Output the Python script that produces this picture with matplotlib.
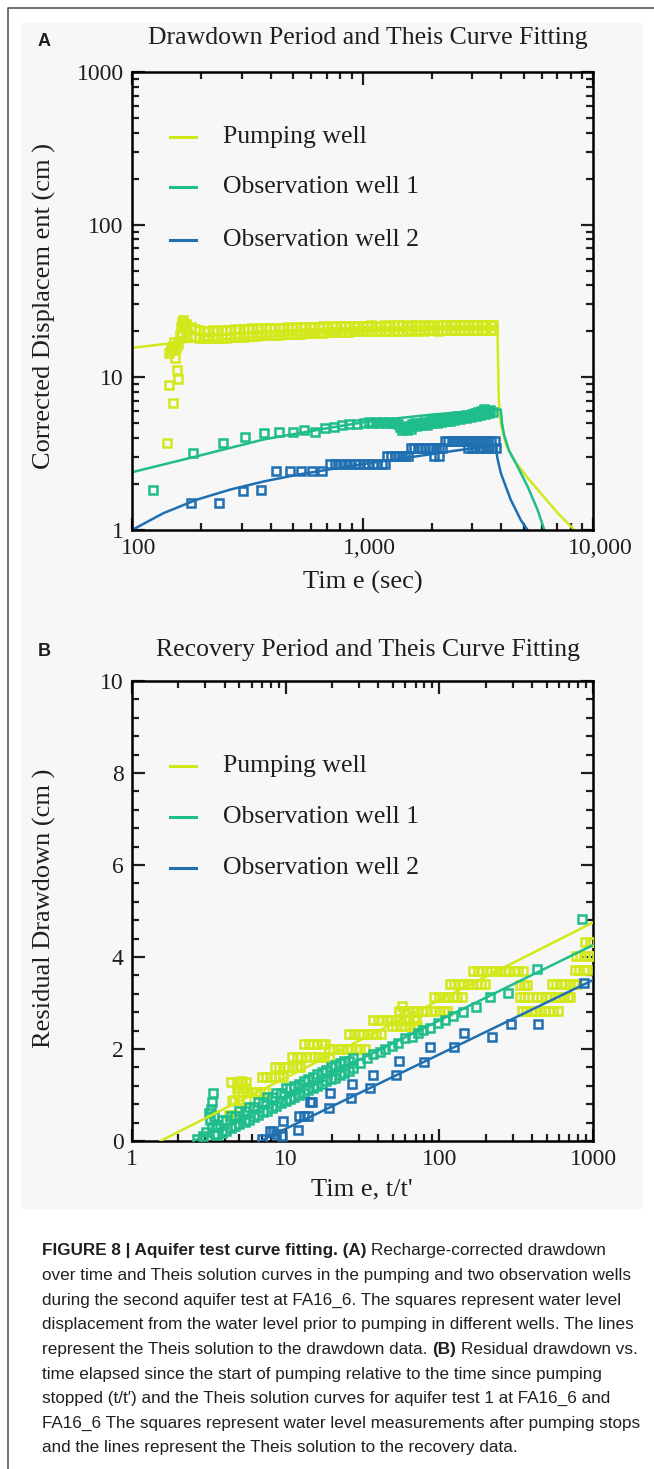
import matplotlib
matplotlib.use("Agg")
from matplotlib import pyplot as plt
from matplotlib.lines import Line2D
from matplotlib.patches import Rectangle
from matplotlib.ticker import NullFormatter, MultipleLocator
from matplotlib.transforms import ScaledTranslation

#* Colores de cada pozo
color_bombeo = "#d3e81b"
color_obs1 = "#1fbd8b"
color_obs2 = "#1f6fb1"
nombres = ["Pumping well", "Observation well 1", "Observation well 2"]

#*#################################################################################
#* Datos panel A (descenso, log-log)
#*#################################################################################
a_bombeo_linea_t = [100, 137, 200, 400, 1000, 2000, 3850, 3900, 3990, 4200, 4600, 5200, 5754, 7031, 8300, 8800]
a_bombeo_linea_v = [15.6, 16.5, 17.4, 18.6, 19.8, 20.5, 21.0, 7.2, 4.9, 3.6, 2.8, 2.2, 1.84, 1.29, 1.0, 0.9]
a_obs1_linea_t = [100, 191, 373, 726, 1084, 2000, 3000, 3980, 4030, 4115, 4325, 4710, 5200, 5754, 6150, 6500]
a_obs1_linea_v = [2.39, 3.04, 3.92, 4.68, 5.17, 5.7, 6.0, 6.15, 5.0, 4.2, 3.3, 2.6, 1.93, 1.35, 1.0, 0.9]
a_obs2_linea_t = [100, 137, 191, 267, 373, 520, 726, 1084, 1500, 2500, 3785, 3840, 3981, 4395, 4865, 5200, 5500]
a_obs2_linea_v = [1.0, 1.29, 1.58, 1.84, 2.08, 2.3, 2.5, 2.75, 2.95, 3.3, 3.6, 3.0, 2.36, 1.58, 1.16, 1.0, 0.9]

#* Cuadrados del pozo de bombeo (inicio disperso)
a_bombeo_t = [142, 144, 151, 154, 156, 159, 145, 148, 150, 152, 147, 155, 158, 161, 163, 166, 168]
a_bombeo_v = [3.7, 8.9, 6.8, 13.3, 11.1, 9.75, 14.5, 15.5, 16.0, 17.0, 15.0, 15.5, 16.5, 19.0, 21.5, 23.6, 22.5]
#* Banda densa del pozo de bombeo (fila superior e inferior)
a_banda_t = [165, 172, 180, 188, 196, 205, 214, 224, 234, 245, 256, 267, 279, 292, 305, 319, 333, 348,
             364, 380, 397, 415, 434, 453, 474, 495, 517, 540, 565, 590, 617, 645, 674, 704, 736, 769,
             804, 840, 878, 917, 959, 1002, 1047, 1094, 1143, 1195, 1249, 1305, 1364, 1425, 1489, 1556,
             1626, 1699, 1776, 1856, 1939, 2027, 2118, 2213, 2313, 2417, 2526, 2639, 2758, 2882, 3012,
             3147, 3289, 3437, 3592, 3700]
a_banda_sup = [23.0, 22.2, 21.3, 20.6, 20.3, 20.2, 20.1, 20.3, 20.2, 20.4, 20.5, 20.5, 20.7, 20.6, 20.8,
               20.8, 20.9, 20.8, 21.0, 21.0, 21.1, 21.0, 21.2, 21.1, 21.3, 21.2, 21.3, 21.4, 21.3, 21.5,
               21.4, 21.5, 21.6, 21.5, 21.6, 21.7, 21.6, 21.7, 21.6, 21.8, 21.7, 21.8, 21.7, 21.9, 21.8,
               21.8, 21.9, 21.8, 21.9, 22.0, 21.9, 21.8, 22.0, 21.9, 21.8, 22.0, 21.9, 21.8, 22.0, 21.9,
               22.0, 21.9, 22.1, 21.9, 22.0, 21.9, 22.1, 22.0, 21.9, 22.1, 22.0, 21.9]
a_banda_inf = [19.5, 19.0, 18.6, 18.3, 18.1, 18.0, 18.0, 18.1, 18.1, 18.2, 18.2, 18.3, 18.4, 18.4, 18.5,
               18.6, 18.6, 18.7, 18.8, 18.8, 18.9, 19.0, 19.0, 19.1, 19.2, 19.2, 19.3, 19.3, 19.4, 19.5,
               19.5, 19.6, 19.6, 19.7, 19.7, 19.8, 19.8, 19.9, 19.9, 20.0, 20.0, 20.0, 20.1, 20.0, 20.1,
               20.1, 20.2, 20.1, 20.2, 20.2, 20.1, 20.2, 20.3, 20.2, 20.3, 20.2, 20.3, 20.3, 20.2, 20.3,
               20.4, 20.3, 20.3, 20.4, 20.3, 20.4, 20.3, 20.4, 20.4, 20.3, 20.4, 20.4]

#* Cuadrados del pozo de observación 1
a_obs1_t = [123, 184, 248, 310, 373, 436, 498, 556, 621, 686, 750, 811, 873, 942, 1014, 1066,
            1100, 1140, 1180, 1220, 1260, 1300, 1340, 1380, 1420, 1460, 1500, 1545, 1590, 1640, 1690,
            1740, 1795, 1850, 1905, 1965, 2025, 2085, 2150, 2215, 2285, 2355, 2425, 2500, 2575, 2655,
            2735, 2820, 2905, 2995, 3085, 3180, 3280, 3380, 3480, 3590, 3700,
            1480, 1560, 1620, 1700, 1800, 1900, 2000, 2100, 2200, 2300, 2400, 2500, 2650, 2800, 2950,
            3100, 3250, 3400, 3550]
a_obs1_v = [1.82, 3.2, 3.69, 4.06, 4.3, 4.41, 4.41, 4.52, 4.38, 4.63, 4.72, 4.87, 4.92, 4.92, 5.0, 5.1,
            5.05, 5.1, 5.0, 5.08, 5.05, 5.1, 5.0, 5.05, 4.95, 4.7, 4.65, 4.7, 4.8, 4.95, 5.0,
            4.9, 5.05, 5.1, 5.0, 5.2, 5.3, 5.2, 5.35, 5.3, 5.45, 5.35, 5.5, 5.45, 5.55, 5.5,
            5.6, 5.7, 5.6, 5.75, 5.8, 5.9, 6.05, 6.2, 6.0, 6.1, 5.95,
            4.5, 4.55, 4.6, 4.8, 4.85, 4.85, 5.0, 5.05, 5.1, 5.2, 5.2, 5.25, 5.3, 5.45, 5.5,
            5.6, 5.7, 5.75, 5.85]

#* Cuadrados del pozo de observación 2
a_obs2_t = [180, 239, 303, 363, 421, 483, 541, 604, 668,
            722, 760, 800, 840, 880, 925, 970, 1015, 1060, 1110, 1160, 1210, 1250,
            1280, 1330, 1380, 1430, 1480, 1530, 1580,
            1620, 1680, 1740, 1800, 1870, 1940, 2010, 2080, 2150, 2220, 2040, 2140,
            2280, 2360, 2440, 2520, 2600, 2690, 2780, 2870, 2970, 3070, 3170, 3280, 3390, 3500, 3620, 3740,
            2880, 2980, 3080, 3190, 3300, 3420, 3540, 3660, 3780]
a_obs2_v = [1.51, 1.51, 1.81, 1.82, 2.42, 2.42, 2.42, 2.42, 2.42,
            2.72, 2.72, 2.72, 2.72, 2.72, 2.72, 2.72, 2.72, 2.72, 2.72, 2.72, 2.72, 2.72,
            3.04, 3.04, 3.04, 3.04, 3.04, 3.04, 3.04,
            3.45, 3.45, 3.45, 3.45, 3.45, 3.45, 3.45, 3.45, 3.45, 3.45, 3.04, 3.04,
            3.82, 3.82, 3.82, 3.82, 3.82, 3.82, 3.82, 3.82, 3.82, 3.82, 3.82, 3.82, 3.82, 3.82, 3.82, 3.82,
            3.45, 3.45, 3.45, 3.45, 3.45, 3.45, 3.45, 3.45, 3.45]

#*#################################################################################
#* Datos panel B (recuperación, t/t')
#*#################################################################################
b_bombeo_linea_t = [1.53, 30, 1000]
b_bombeo_linea_v = [0.0, 2.18, 4.75]
b_obs1_linea_t = [2.52, 1000]
b_obs1_linea_v = [0.0, 4.26]
b_obs2_linea_t = [6.85, 1000]
b_obs2_linea_v = [0.0, 3.5]

#* Pozo de bombeo: escalones de cuadrados
b_bombeo_t = [4.3, 4.5, 4.6, 4.85, 5.1, 5.4,
              4.6, 5.0, 5.5,
              4.4, 4.8, 5.2, 5.5,
              4.9, 5.2, 5.6, 6.0, 6.4, 6.8, 7.3,
              7.0, 7.5, 8.0, 8.5, 9.0, 9.6,
              8.5, 9.1, 9.7, 10.4, 11.1, 11.8, 12.4,
              11, 11.8, 12.6, 13.5, 14.4, 15.4, 16.5, 17.7, 19,
              13.2, 14.1, 15.1, 16.1, 17.2, 18,
              19, 20.4, 21.8, 23.3, 25, 26.7, 28.6, 30.6, 33,
              26, 27.8, 29.8, 31.9, 34.1, 36.5, 39, 42,
              37, 39.6, 42.4, 45.4, 48.5, 52, 55.6, 59.5, 63.6, 68, 70,
              49, 52.5, 56, 60, 64, 68.5, 72,
              57,
              55, 59, 63, 67.5, 72, 77, 82.5, 88, 94, 101, 108, 113,
              93, 99.5, 106.5, 114, 122, 130.5, 140,
              117, 125, 134, 143, 153, 164, 175, 187, 197,
              166, 178, 190, 203, 217, 232, 248, 266, 284, 304, 325, 351,
              333, 355, 370,
              333, 356, 380, 430, 460, 492, 527, 563, 603, 645, 690, 710,
              345, 369, 395, 422, 452, 484, 517, 553, 590,
              540, 578, 618, 661, 707, 757, 790,
              760, 813, 870, 920,
              770, 824, 882, 943, 1000,
              890, 952, 1000]
b_bombeo_v = [0.57, 0.86, 0.57, 1.15, 1.3, 1.15,
              0.89, 0.89, 0.89,
              1.28, 1.28, 1.28, 1.28,
              1.07, 1.07, 1.07, 1.07, 1.07, 1.07, 1.07,
              1.39, 1.39, 1.39, 1.39, 1.39, 1.39,
              1.61, 1.61, 1.61, 1.61, 1.61, 1.61, 1.61,
              1.83, 1.83, 1.83, 1.83, 1.83, 1.83, 1.83, 1.83, 1.83,
              2.1, 2.1, 2.1, 2.1, 2.1, 2.1,
              2.0, 2.0, 2.0, 2.0, 2.0, 2.0, 2.0, 2.0, 2.0,
              2.33, 2.33, 2.33, 2.33, 2.33, 2.33, 2.33, 2.33,
              2.62, 2.62, 2.62, 2.62, 2.62, 2.62, 2.62, 2.62, 2.62, 2.62, 2.62,
              2.5, 2.5, 2.5, 2.5, 2.5, 2.5, 2.5,
              2.93,
              2.82, 2.82, 2.82, 2.82, 2.82, 2.82, 2.82, 2.82, 2.82, 2.82, 2.82, 2.82,
              3.12, 3.12, 3.12, 3.12, 3.12, 3.12, 3.12,
              3.41, 3.41, 3.41, 3.41, 3.41, 3.41, 3.41, 3.41, 3.41,
              3.7, 3.7, 3.7, 3.7, 3.7, 3.7, 3.7, 3.7, 3.7, 3.7, 3.7, 3.7,
              3.4, 3.4, 3.4,
              3.12, 3.12, 3.12, 3.12, 3.12, 3.12, 3.12, 3.12, 3.12, 3.12, 3.12, 3.12,
              2.83, 2.83, 2.83, 2.83, 2.83, 2.83, 2.83, 2.83, 2.83,
              3.41, 3.41, 3.41, 3.41, 3.41, 3.41, 3.41,
              3.72, 3.72, 3.72, 3.72,
              4.02, 4.02, 4.02, 4.02, 4.02,
              4.33, 4.33, 4.33]

#* Pozo de observación 1: columna inicial, banda y puntos sueltos
b_obs1_col_t = [2.64, 2.9, 3.05, 3.15, 3.2, 3.25, 3.3, 3.3, 3.35, 3.4, 3.45, 3.5]
b_obs1_col_v = [0.05, 0.1, 0.2, 0.6, 0.45, 0.7, 0.85, 0.3, 1.04, 0.55, 0.15, 0.35]
b_obs1_banda_t = [3.6, 3.85, 4.1, 4.4, 4.7, 5.0, 5.4, 5.8, 6.2, 6.6, 7.1, 7.6, 8.1, 8.7, 9.3, 10,
                  10.7, 11.4, 12.2, 13.1, 14, 15, 16, 17.2, 18.4, 19.7, 21, 22.5, 24, 25.7, 27.5]
b_obs1_banda_sup = [0.35, 0.45, 0.45, 0.55, 0.55, 0.65, 0.65, 0.75, 0.75, 0.85, 0.85, 0.95, 0.95, 1.05,
                    1.05, 1.15, 1.15, 1.2, 1.25, 1.3, 1.35, 1.4, 1.45, 1.5, 1.55, 1.6, 1.65, 1.7, 1.75,
                    1.75, 1.8]
b_obs1_banda_inf = [0.12, 0.18, 0.22, 0.28, 0.32, 0.36, 0.42, 0.46, 0.52, 0.56, 0.62, 0.66, 0.72, 0.76,
                    0.82, 0.86, 0.92, 0.95, 1.0, 1.05, 1.1, 1.15, 1.2, 1.25, 1.3, 1.35, 1.38, 1.43,
                    1.48, 1.52, 1.58]
b_obs1_t = [30.5, 33.7, 37.2, 41.1, 44.3, 49, 54.1, 59.8, 66.1, 73.1, 78.8, 87, 98.6, 109, 123, 143,
            173, 214, 281, 430, 844]
b_obs1_v = [1.69, 1.80, 1.89, 1.94, 2.01, 2.06, 2.14, 2.23, 2.27, 2.34, 2.41, 2.45, 2.56, 2.63, 2.72,
            2.81, 2.92, 3.12, 3.22, 3.73, 4.83]

#* Pozo de observación 2
b_obs2_t = [7.0, 7.9, 8.3, 8.6, 9.4, 9.6, 12.1, 12.3, 13.2, 14, 14.4, 14.8, 19.2, 19.4, 26.5, 27.2,
            35.4, 37.2, 52, 55, 79, 87, 125, 145, 219, 291, 437, 879]
b_obs2_v = [0.04, 0.22, 0.22, 0.15, 0.1, 0.43, 0.25, 0.54, 0.54, 0.54, 0.85, 0.85, 0.72, 1.05, 0.94,
            1.25, 1.15, 1.43, 1.43, 1.74, 1.72, 2.05, 2.05, 2.34, 2.26, 2.54, 2.54, 3.44]

#* Texto del epígrafe (trozos: texto, negrita)
epigrafe = [
    [("FIGURE 8 | Aquifer test curve fitting. (A)", True), ("Recharge-corrected drawdown", False)],
    [("over time and Theis solution curves in the pumping and two observation wells", False)],
    [("during the second aquifer test at FA16_6. The squares represent water level", False)],
    [("displacement from the water level prior to pumping in different wells. The lines", False)],
    [("represent the Theis solution to the drawdown data.", False), ("(B)", True), ("Residual drawdown vs.", False)],
    [("time elapsed since the start of pumping relative to the time since pumping", False)],
    [("stopped (t/t\u2032) and the Theis solution curves for aquifer test 1 at FA16_6 and", False)],
    [("FA16_6 The squares represent water level measurements after pumping stops", False)],
    [("and the lines represent the Theis solution to the recovery data.", False)],
]

#*#################################################################################
#* Figura
#*#################################################################################
ANCHO, ALTO = 654, 1469
plt.rcParams["font.family"] = ["Liberation Serif", "DejaVu Serif"]
sans = ["Liberation Sans", "DejaVu Sans"]
tinta = "#1e1e1e"


def fx(px):
    return px / ANCHO


def fy(py):
    return 1 - py / ALTO


fig = plt.figure(figsize=(ANCHO / 100, ALTO / 100), dpi=100)
fig.patch.set_facecolor("white")

#* Fondo gris del gráfico y marco
fig.add_artist(Rectangle((fx(21), fy(1209)), fx(643) - fx(21), fy(23) - fy(1209),
                         transform=fig.transFigure, facecolor="#f7f7f7", edgecolor="none", zorder=0))
fig.add_artist(Line2D([fx(7.5), fx(7.5), fx(ANCHO)], [fy(ALTO), fy(8), fy(8)],
                      transform=fig.transFigure, color="#555555", lw=1.2))


def estilo_ejes(ax):
    ax.set_facecolor("none")
    for s in ax.spines.values():
        s.set_linewidth(1.8)
    ax.tick_params(which="both", direction="in", top=True, right=True, width=1.6,
                   labelsize=17, pad=6, colors=tinta)
    ax.tick_params(which="major", length=9)
    ax.tick_params(which="minor", length=5)


def cuadrados(ax, t, v, color):
    ax.plot(t, v, linestyle="none", marker="s", markersize=6.0, markerfacecolor="none",
            markeredgecolor=color, markeredgewidth=1.8, zorder=3)


def leyenda(ys):
    for y, c, nombre in zip(ys, [color_bombeo, color_obs1, color_obs2], nombres):
        fig.add_artist(Line2D([fx(170), fx(196)], [fy(y), fy(y)], transform=fig.transFigure,
                              color=c, lw=2.2))
        fig.text(fx(223), fy(y), nombre, ha="left", va="center", fontsize=18.5, color=tinta)


#*#################################################################################
#* Panel A
#*#################################################################################
axA = fig.add_axes([fx(132), fy(530), fx(593) - fx(132), fy(72) - fy(530)])
axA.set_xscale("log")
axA.set_yscale("log")

axA.plot(a_bombeo_linea_t, a_bombeo_linea_v, color=color_bombeo, lw=1.8, zorder=2)
axA.plot(a_obs1_linea_t, a_obs1_linea_v, color=color_obs1, lw=1.8, zorder=2)
axA.plot(a_obs2_linea_t, a_obs2_linea_v, color=color_obs2, lw=1.8, zorder=2)
cuadrados(axA, a_bombeo_t, a_bombeo_v, color_bombeo)
cuadrados(axA, a_banda_t, a_banda_sup, color_bombeo)
cuadrados(axA, a_banda_t, a_banda_inf, color_bombeo)
cuadrados(axA, a_obs1_t, a_obs1_v, color_obs1)
cuadrados(axA, a_obs2_t, a_obs2_v, color_obs2)

axA.set_xlim(100, 10000)
axA.set_ylim(1, 1000)
axA.set_xticks([100, 1000, 10000], ["100", "1,000", "10,000"])
axA.set_yticks([1, 10, 100, 1000], ["1", "10", "100", "1000"])
axA.xaxis.set_minor_formatter(NullFormatter())
axA.yaxis.set_minor_formatter(NullFormatter())
estilo_ejes(axA)
desplaza = ScaledTranslation(0.07, 0, fig.dpi_scale_trans)
for lab in axA.get_xticklabels():
    lab.set_transform(lab.get_transform() + desplaza)

fig.text(fx(44), fy(42), "A", family=sans, weight="bold", fontsize=13, ha="center", va="center", color=tinta)
fig.text(fx(368), fy(38), "Drawdown Period and Theis Curve Fitting", ha="center", va="center",
         fontsize=18.5, color=tinta)
fig.text(fx(44), fy(306), "Corrected Displacem ent (cm )", rotation=90, ha="center", va="center",
         fontsize=19, color=tinta)
fig.text(fx(363), fy(582), "Tim e (sec)", ha="center", va="center", fontsize=19, color=tinta)
leyenda([137, 187, 240])

#*#################################################################################
#* Panel B
#*#################################################################################
axB = fig.add_axes([fx(132), fy(1141), fx(593) - fx(132), fy(681) - fy(1141)])
axB.set_xscale("log")

cuadrados(axB, b_bombeo_t, b_bombeo_v, color_bombeo)
cuadrados(axB, b_obs1_col_t, b_obs1_col_v, color_obs1)
cuadrados(axB, b_obs1_banda_t, b_obs1_banda_sup, color_obs1)
cuadrados(axB, b_obs1_banda_t, b_obs1_banda_inf, color_obs1)
cuadrados(axB, b_obs1_t, b_obs1_v, color_obs1)
cuadrados(axB, b_obs2_t, b_obs2_v, color_obs2)
axB.plot(b_bombeo_linea_t, b_bombeo_linea_v, color=color_bombeo, lw=1.8, zorder=4)
axB.plot(b_obs1_linea_t, b_obs1_linea_v, color=color_obs1, lw=1.8, zorder=4)
axB.plot(b_obs2_linea_t, b_obs2_linea_v, color=color_obs2, lw=1.8, zorder=4)

axB.set_xlim(1, 1000)
axB.set_ylim(0, 10)
axB.set_xticks([1, 10, 100, 1000], ["1", "10", "100", "1000"])
axB.set_yticks([0, 2, 4, 6, 8, 10])
axB.yaxis.set_minor_locator(MultipleLocator(0.4))
axB.xaxis.set_minor_formatter(NullFormatter())
estilo_ejes(axB)

fig.text(fx(44), fy(652), "B", family=sans, weight="bold", fontsize=13, ha="center", va="center", color=tinta)
fig.text(fx(368), fy(650), "Recovery Period and Theis Curve Fitting", ha="center", va="center",
         fontsize=18.5, color=tinta)
fig.text(fx(44), fy(908), "Residual Drawdown (cm )", rotation=90, ha="center", va="center",
         fontsize=19, color=tinta)
fig.text(fx(362), fy(1189), "Tim e, t/t'", ha="center", va="center", fontsize=19, color=tinta)
leyenda([766, 817, 868])

#*#################################################################################
#* Epígrafe
#*#################################################################################
renderer = fig.canvas.get_renderer()
tam_epigrafe = 12.35


def ancho_px(texto, negrita):
    t = fig.text(0, 0, texto, fontsize=tam_epigrafe, family=sans, weight="bold" if negrita else "normal")
    w = t.get_window_extent(renderer).width
    t.remove()
    return w


espacio = ancho_px("x x", False) - ancho_px("xx", False)
for i, linea in enumerate(epigrafe):
    x = 42
    y = 1251 + 24.6 * i
    for texto, negrita in linea:
        t = fig.text(fx(x), fy(y), texto, ha="left", va="center", fontsize=tam_epigrafe, family=sans,
                     weight="bold" if negrita else "normal", color="#231f20")
        x += t.get_window_extent(renderer).width + espacio

fig.savefig("out.png", dpi=100)
